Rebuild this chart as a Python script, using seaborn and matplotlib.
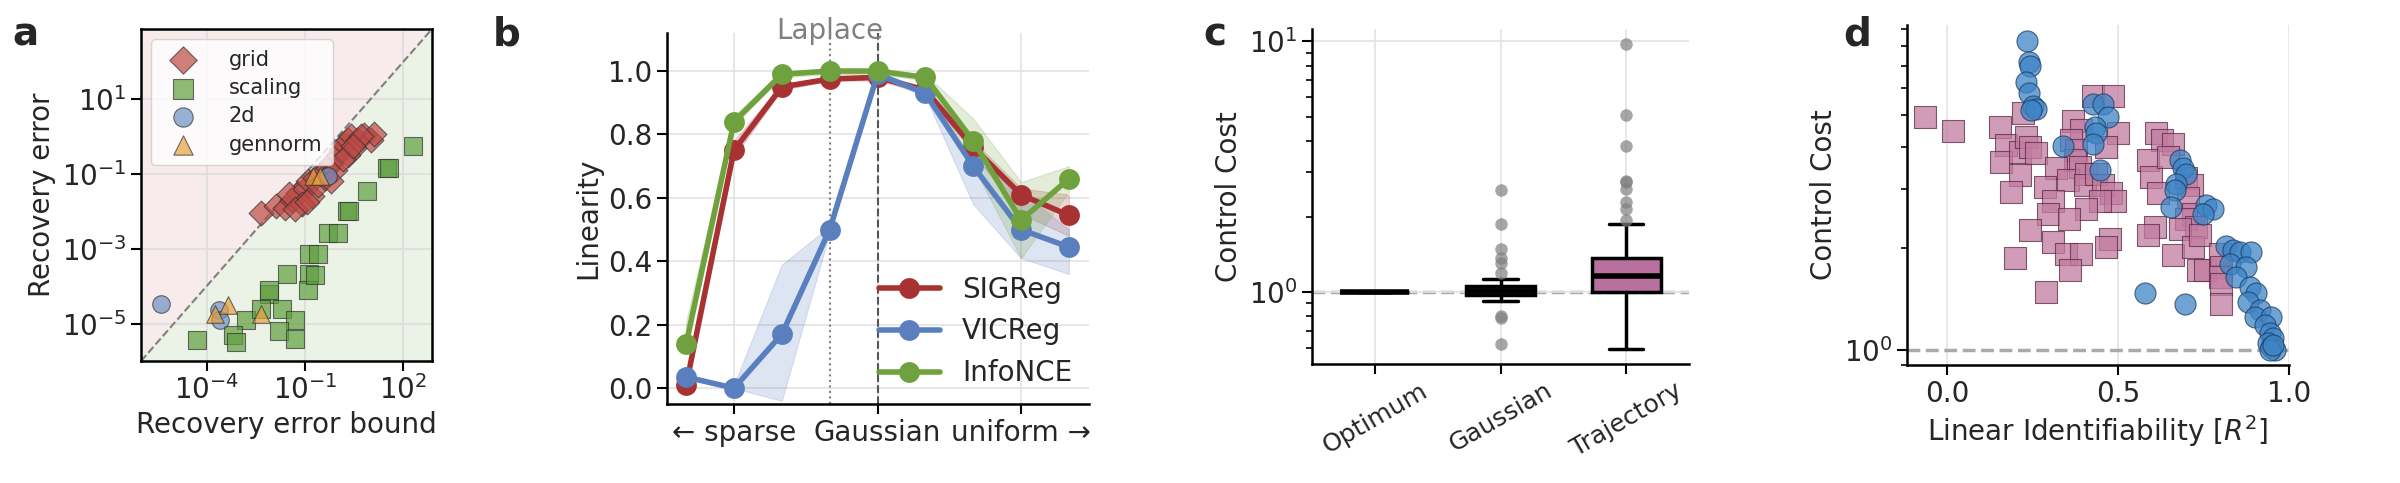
import numpy as np
import pandas as pd
import seaborn as sns
import matplotlib.pyplot as plt
from matplotlib.ticker import LogLocator, NullFormatter, FixedLocator

# ---- panel a data (log10 values) ----
grid_lx = [-2.35, -1.9, -1.6, -1.4, -1.2, -1.5, -1.0, -0.9, -0.7, -0.5, -0.8, -0.6, -0.3, -0.2, 0.0,
           0.1, 0.2, 0.3, 0.4, 0.5, 0.6, 0.8, 1.0, 1.1, -0.4, -0.1, 0.3, -1.1, -0.2, 0.7, -1.3, -0.95, 0.15, 0.45]
grid_ly = [-2.04, -1.85, -1.9, -1.7, -1.5, -1.55, -1.4, -1.2, -1.1, -1.0, -1.6, -1.3, -0.85, -0.7, -0.5,
           -0.35, -0.2, -0.1, 0.0, -0.3, -0.1, 0.05, -0.1, 0.07, -1.1, -0.9, -0.5, -1.8, -1.2, 0.0, -1.95, -1.75, -0.6, -0.25]
scal_lx = [2.28, 1.5, 1.55, 0.9, 0.29, 0.35, -0.3, 0.0, -0.88, -0.6, -1.55, -0.88, -0.9, -2.1, -1.7, -1.3,
           -2.8, -2.35, -3.2, -3.1, -4.3, -1.8, -1.3, -2.1, -0.7]
scal_ly = [-0.25, -0.84, -0.84, -1.45, -1.99, -1.99, -2.58, -2.58, -3.15, -3.15, -3.67, -3.67, -4.1, -4.2, -4.6, -4.9,
           -4.9, -4.6, -5.3, -5.5, -5.45, -5.2, -5.4, -4.1, -3.7]
d2_lx = [-5.4, -3.63, -3.6, -0.3]
d2_ly = [-4.47, -4.65, -4.9, -1.05]
gen_lx = [-3.75, -3.35, -2.35, -0.75, -0.55]
gen_ly = [-4.75, -4.5, -4.75, -1.05, -1.05]

# ---- panel b data ----
b_x = list(range(9))
sig_mean = [0.01, 0.75, 0.95, 0.975, 0.98, 0.94, 0.76, 0.61, 0.545]
sig_lo = [0.0, 0.73, 0.94, 0.97, 0.97, 0.93, 0.74, 0.55, 0.48]
sig_hi = [0.02, 0.78, 0.96, 0.98, 0.99, 0.95, 0.78, 0.63, 0.61]
vic_mean = [0.035, 0.0, 0.17, 0.50, 0.99, 0.93, 0.70, 0.50, 0.445]
vic_lo = [0.03, 0.0, -0.04, 0.49, 0.98, 0.92, 0.58, 0.41, 0.36]
vic_hi = [0.04, 0.01, 0.39, 0.51, 1.0, 0.94, 0.72, 0.62, 0.50]
nce_mean = [0.14, 0.84, 0.99, 1.0, 1.0, 0.98, 0.78, 0.53, 0.66]
nce_lo = [0.11, 0.83, 0.98, 0.99, 0.99, 0.97, 0.70, 0.41, 0.62]
nce_hi = [0.21, 0.86, 1.0, 1.0, 1.0, 0.99, 0.85, 0.65, 0.70]
b_ticks = [1, 4, 7]
b_ticklabels = ["\u2190 sparse", "Gaussian", "uniform \u2192"]

# ---- panel c data (box statistics) ----
c_cats = ["Optimum", "Gaussian", "Trajectory"]
c_q1 = [1.0, 0.976, 1.0]
c_med = [1.0, 1.01, 1.155]
c_q3 = [1.0, 1.06, 1.37]
c_wlo = [1.0, 0.92, 0.594]
c_whi = [1.0, 1.13, 1.87]
c_fliers = [[], [2.56, 1.86, 1.48, 1.37, 1.31, 1.19, 0.80, 0.79, 0.62],
            [9.76, 5.1, 3.81, 2.76, 2.74, 2.57, 2.29, 2.14, 1.94]]

# ---- panel d data ----
blue_x = [0.234, 0.239, 0.241, 0.231, 0.239, 0.251, 0.259, 0.246, 0.339, 0.426, 0.455, 0.47, 0.431, 0.436, 0.426,
          0.446, 0.68, 0.69, 0.70, 0.67, 0.665, 0.656, 0.758, 0.778, 0.748, 0.578, 0.695,
          0.817, 0.836, 0.856, 0.89, 0.826, 0.875, 0.846, 0.885, 0.904, 0.88, 0.914, 0.9, 0.948, 0.929,
          0.943, 0.953, 0.939, 0.948, 0.958, 0.943, 0.953]
blue_y = [8.3, 7.2, 7.0, 6.25, 5.8, 5.3, 5.2, 5.17, 4.04, 5.4, 5.4, 4.93, 4.6, 4.4, 4.1,
          3.42, 3.66, 3.46, 3.34, 3.12, 2.98, 2.66, 2.69, 2.63, 2.54, 1.47, 1.37,
          2.04, 1.98, 1.95, 1.95, 1.8, 1.76, 1.65, 1.54, 1.47, 1.39, 1.31, 1.25, 1.25, 1.18,
          1.12, 1.08, 1.05, 1.02, 1.0, 1.0, 1.03]
pink_x = [-0.066, 0.017, 0.221, 0.426, 0.485, 0.153, 0.173, 0.158, 0.212, 0.231, 0.241, 0.261, 0.212, 0.187,
          0.368, 0.392, 0.363, 0.378, 0.373, 0.387, 0.319, 0.353, 0.285, 0.407, 0.402, 0.499, 0.465, 0.436,
          0.455, 0.48, 0.49, 0.446, 0.407, 0.309, 0.295, 0.356, 0.241, 0.309, 0.475, 0.465, 0.348, 0.392,
          0.358, 0.197, 0.29, 0.612, 0.627, 0.66, 0.587, 0.597, 0.617, 0.70, 0.715, 0.705, 0.719, 0.70,
          0.729, 0.68, 0.607, 0.587, 0.66, 0.719, 0.739, 0.734, 0.753, 0.797, 0.802, 0.797, 0.802, 0.802, 0.646]
pink_y = [4.93, 4.48, 5.05, 5.67, 5.67, 4.6, 4.06, 3.62, 3.88, 4.3, 4.0, 3.84, 3.3, 2.95,
          4.78, 4.5, 4.2, 3.93, 3.66, 3.5, 3.46, 3.2, 3.05, 3.34, 3.08, 4.4, 4.0, 3.34,
          3.08, 2.92, 2.76, 2.76, 2.63, 2.76, 2.54, 2.45, 2.27, 2.09, 2.14, 2.02, 1.93, 1.93,
          1.72, 1.87, 1.48, 4.4, 4.2, 4.1, 3.66, 3.27, 2.92, 3.24, 3.09, 2.82, 2.54, 2.45,
          2.32, 2.29, 2.32, 2.19, 1.91, 2.02, 2.19, 1.72, 1.72, 1.93, 1.76, 1.65, 1.57, 1.37, 3.74]

sns.set_theme(style="white")
plt.rcParams['font.family'] = ['DejaVu Sans']
plt.rcParams['font.size'] = 20
FS = 20

fig = plt.figure(figsize=(24, 4.83), dpi=100)
H, W = 483, 2400


def add_ax(x0, y0, x1, y1):
    return fig.add_axes([x0 / W, 1 - y1 / H, (x1 - x0) / W, (y1 - y0) / H])


def tickstyle(ax):
    ax.tick_params(axis="both", which="major", direction="out", length=7, width=1.5,
                   labelsize=FS, bottom=True, left=True, color="black")
    ax.tick_params(axis="both", which="minor", direction="out", length=4, width=1.2,
                   bottom=False, left=True, color="black")
    for s in ax.spines.values():
        s.set_linewidth(1.8)
        s.set_color("black")


# ---------- a ----------
ax = add_ax(141, 29, 432, 361)
lo, hi = 1e-6, 10 ** 2.87
ax.fill_between([lo, hi], [lo, hi], [hi, hi], color="#f5e3e4", alpha=0.7, zorder=0)
ax.fill_between([lo, hi], [lo, lo], [lo, hi], color="#e3eedd", alpha=0.7, zorder=0)
ax.plot([lo, hi], [lo, hi], ls="--", color="gray", lw=1.5, zorder=1)
groups = [("grid", grid_lx, grid_ly, "D", "#bf4a45"),
          ("scaling", scal_lx, scal_ly, "s", "#5f9f3e"),
          ("2d", d2_lx, d2_ly, "o", "#6f91c6"),
          ("gennorm", gen_lx, gen_ly, "^", "#e9a23b")]
for name, lx, ly, m, c in groups:
    df = pd.DataFrame({"x": 10 ** np.array(lx), "y": 10 ** np.array(ly)})
    sns.scatterplot(data=df, x="x", y="y", marker=m, color=c, s=160, alpha=0.7,
                    edgecolor="#333333", linewidth=0.8, label=name, ax=ax, zorder=3)
ax.set_xscale("log")
ax.set_yscale("log")
ax.set_xlim(lo, hi)
ax.set_ylim(lo, hi)
ax.xaxis.set_major_locator(FixedLocator([1e-4, 1e-1, 1e2]))
ax.yaxis.set_major_locator(FixedLocator([1e-5, 1e-3, 1e-1, 1e1]))
ax.xaxis.set_minor_locator(FixedLocator([]))
ax.yaxis.set_minor_locator(FixedLocator([]))
ax.grid(True, color="#dddddd", lw=1.2, zorder=0)
ax.set_axisbelow(True)
tickstyle(ax)
ax.set_xlabel("Recovery error bound", fontsize=FS)
ax.set_ylabel("Recovery error", fontsize=FS)
leg = ax.legend(loc="upper left", fontsize=15, frameon=True, borderpad=0.5, labelspacing=0.4,
                handletextpad=1.2, markerscale=1.1)
leg.get_frame().set_alpha(0.8)

# ---------- b ----------
ax = add_ax(667, 33, 1089, 404)
series = [("SIGReg", sig_mean, sig_lo, sig_hi, "#a83232"),
          ("VICReg", vic_mean, vic_lo, vic_hi, "#5a7fbf"),
          ("InfoNCE", nce_mean, nce_lo, nce_hi, "#6fa23f")]
for name, mu, l, h, c in series:
    ax.fill_between(b_x, l, h, color=c, alpha=0.2, lw=0.8)
    sns.lineplot(x=b_x, y=mu, color=c, lw=4, marker="o", markersize=15, markeredgewidth=0,
                 label=name, ax=ax, zorder=3)
ax.axvline(3, color="gray", ls=":", lw=1.5)
ax.axvline(4, color="#555555", ls="--", lw=1.5)
ax.text(3, 1.125, "Laplace", color="gray", fontsize=FS, ha="center", va="center")
ax.set_xlim(-0.4, 8.42)
ax.set_ylim(-0.05, 1.12)
ax.set_xticks(b_ticks)
ax.set_xticklabels(b_ticklabels)
ax.set_yticks([0, 0.2, 0.4, 0.6, 0.8, 1.0])
ax.grid(True, color="#e3e3e3", lw=1.2)
sns.despine(ax=ax)
tickstyle(ax)
ax.set_ylabel("Linearity", fontsize=FS)
ax.legend(loc="lower right", fontsize=FS, frameon=False, handlelength=2.2, borderaxespad=0.2)

# ---------- c ----------
ax = add_ax(1312, 29, 1689, 364)
stats = []
for i, cat in enumerate(c_cats):
    stats.append(dict(label=cat, q1=c_q1[i], med=c_med[i], q3=c_q3[i],
                      whislo=c_wlo[i], whishi=c_whi[i], fliers=c_fliers[i]))
box_colors = ["black", "#1d3452", "#b8709e"]
bp = ax.bxp(stats, positions=[0, 1, 2], widths=0.55, patch_artist=True,
            medianprops=dict(color="black", lw=4),
            whiskerprops=dict(color="black", lw=2.5), capprops=dict(color="black", lw=2.5),
            boxprops=dict(edgecolor="black", lw=2.5),
            flierprops=dict(marker="o", markerfacecolor="gray", markeredgecolor="none",
                            alpha=0.7, markersize=9))
for p, c in zip(bp["boxes"], box_colors):
    p.set_facecolor(c)
ax.axhline(1.0, color="#aaaaaa", ls="--", lw=2.5, zorder=0)
ax.set_yscale("log")
ax.set_ylim(0.516, 11.2)
ax.set_xlim(-0.5, 2.5)
ax.yaxis.set_major_locator(FixedLocator([1, 10]))
ax.yaxis.set_minor_locator(LogLocator(base=10, subs=np.arange(2, 10) * 1.0))
ax.yaxis.set_minor_formatter(NullFormatter())
ax.set_xticks([0, 1, 2])
ax.set_xticklabels(c_cats, rotation=30)
ax.grid(True, which="major", color="#e3e3e3", lw=1.2)
ax.set_axisbelow(True)
sns.despine(ax=ax)
tickstyle(ax)
ax.tick_params(axis="x", labelsize=18)
ax.set_ylabel("Control Cost", fontsize=FS)

# ---------- d ----------
ax = add_ax(1907, 25, 2289, 365)
sns.scatterplot(x=pink_x, y=pink_y, marker="s", color="#c27ba0", s=230, alpha=0.75,
                edgecolor="#5a2a45", linewidth=0.8, ax=ax, zorder=3)
sns.scatterplot(x=blue_x, y=blue_y, marker="o", color="#3d85c6", s=230, alpha=0.75,
                edgecolor="#1c3a60", linewidth=0.8, ax=ax, zorder=3)
ax.axhline(1.0, color="#aaaaaa", ls="--", lw=2.5, zorder=1)
ax.set_yscale("log")
ax.set_xlim(-0.118, 1.0)
ax.set_ylim(0.90, 9.25)
ax.yaxis.set_major_locator(FixedLocator([1]))
ax.yaxis.set_minor_locator(LogLocator(base=10, subs=np.arange(2, 10) * 1.0))
ax.yaxis.set_minor_formatter(NullFormatter())
ax.set_xticks([0, 0.5, 1.0])
ax.grid(True, axis="x", color="#e3e3e3", lw=1.2)
ax.set_axisbelow(True)
sns.despine(ax=ax)
tickstyle(ax)
ax.set_xlabel("Linear Identifiability [$R^2$]", fontsize=FS)
ax.set_ylabel("Control Cost", fontsize=FS)

for lab, x, y in [("a", 12, 35), ("b", 493, 35), ("c", 1203, 35), ("d", 1843, 35)]:
    fig.text(x / W, 1 - y / H, lab, fontsize=28, fontweight="bold", va="center", ha="left")

fig.savefig("out.png", dpi=100)
